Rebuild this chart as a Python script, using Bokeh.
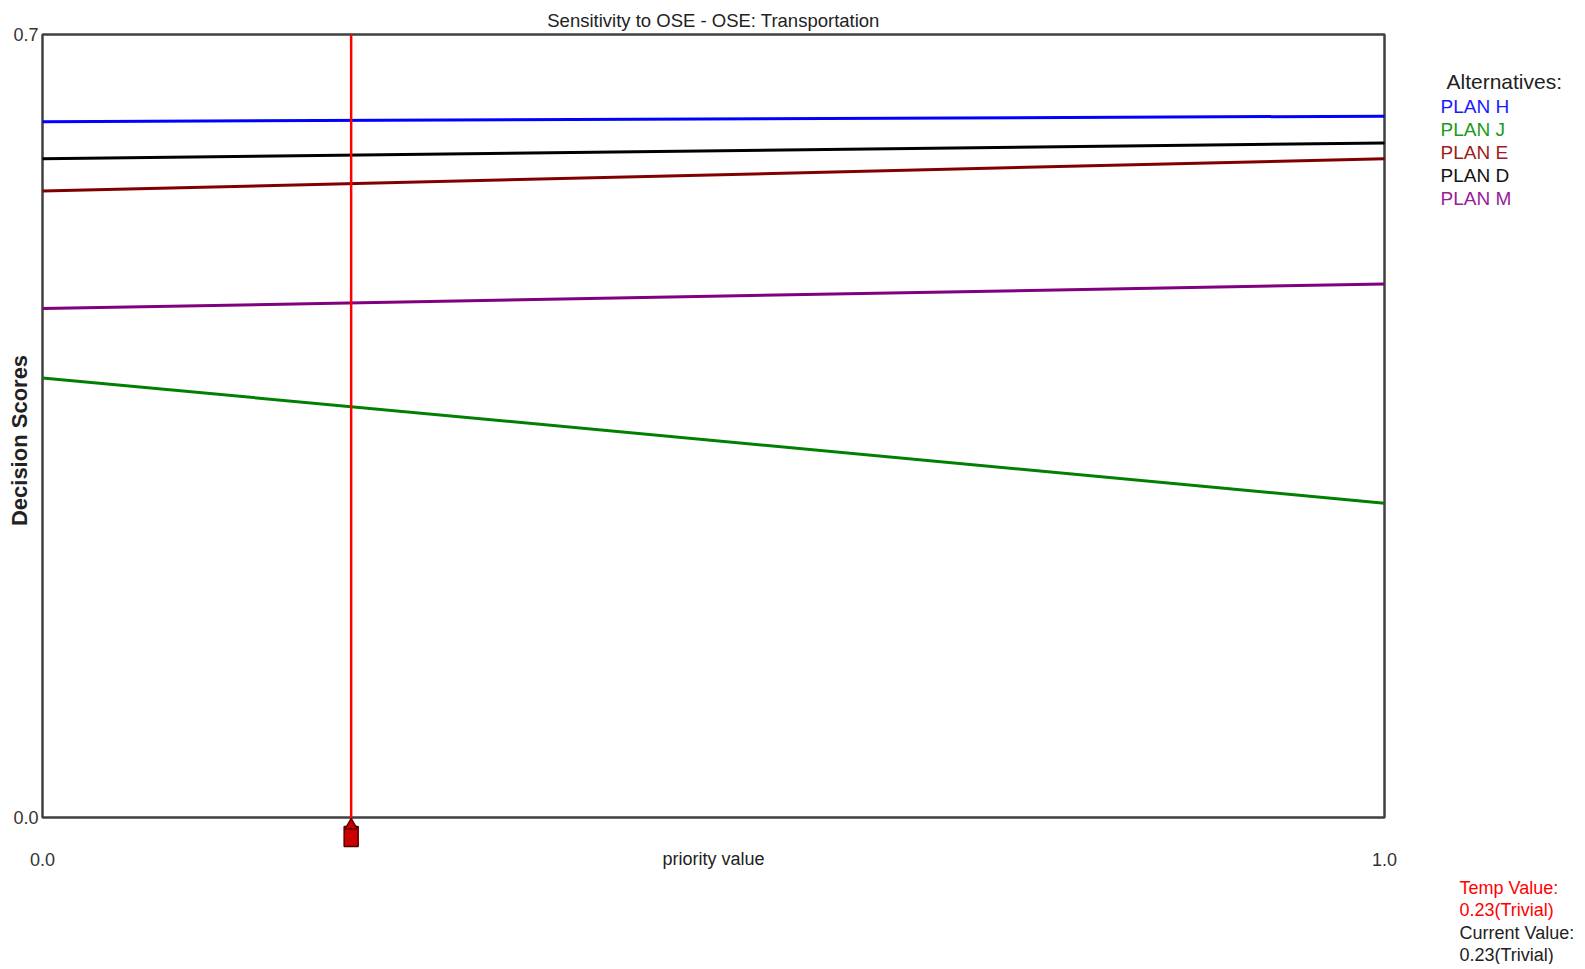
from bokeh.plotting import figure
from bokeh.models import Range1d, FixedTicker
from bokeh.layouts import row
from bokeh.core.properties import value
from bokeh.embed import file_html
from bokeh.resources import INLINE

# ---- data ----
x_ends = [0.0, 1.0]
alternatives = ["PLAN H", "PLAN J", "PLAN E", "PLAN D", "PLAN M"]
colors = ["#0000ff", "#008000", "#800000", "#000000", "#800080"]
legend_colors = ["#1a1aff", "#1a9a1a", "#a01c1c", "#111111", "#9a1a9a"]
plan_h = [0.622, 0.627]
plan_j = [0.393, 0.281]
plan_e = [0.560, 0.589]
plan_d = [0.589, 0.603]
plan_m = [0.455, 0.477]
series = [plan_h, plan_j, plan_e, plan_d, plan_m]
current_value = 0.23
y_ticks = [0.0, 0.7]
y_tick_labels = {0.0: "0.0", 0.7: "0.7"}
x_ticks = [0.0, 1.0]
x_tick_labels = {0.0: "0.0", 1.0: "1.0"}
title_text = "Sensitivity to OSE - OSE: Transportation"
legend_title = "Alternatives:"
status_lines = ["Temp Value:", "0.23(Trivial)", "Current Value:", "0.23(Trivial)"]
status_colors = ["#ff0000", "#ff0000", "#222222", "#222222"]

FONT = "Liberation Sans"
H = 964
PX_X = 1342.0          # pixels per x unit
PX_Y = 783.0 / 0.7     # pixels per y unit

# ---------------- main chart ----------------
p = figure(width=1400, height=H, output_backend="svg", toolbar_location=None,
           x_range=Range1d(-2 / PX_X, 1 + 2 / PX_X),
           y_range=Range1d(-31 / PX_Y, 0.7 + 2 / PX_Y),
           min_border_left=40, min_border_right=14,
           min_border_top=32, min_border_bottom=H - 848)
p.frame_align = False
p.background_fill_color = "white"
p.border_fill_color = "white"
p.outline_line_color = None
p.grid.visible = False

p.title.text = title_text
p.title.align = "center"
p.title.text_font = FONT
p.title.text_font_size = "18.5px"
p.title.text_font_style = "normal"
p.title.text_color = "#222222"
p.title.standoff = 4

for ax in (p.xaxis[0], p.yaxis[0]):
    ax.axis_line_color = None
    ax.major_tick_line_color = None
    ax.minor_tick_line_color = None
    ax.major_tick_out = 0
    ax.major_tick_in = 0
    ax.minor_tick_out = 0
    ax.minor_tick_in = 0
    ax.major_label_text_font = FONT
    ax.major_label_text_font_size = "18px"
    ax.major_label_text_color = "#333333"

p.xaxis.ticker = FixedTicker(ticks=x_ticks)
p.xaxis.major_label_overrides = x_tick_labels
p.xaxis.major_label_standoff = 4
p.xaxis.axis_label = "priority value"
p.xaxis.axis_label_text_font = FONT
p.xaxis.axis_label_text_font_size = "18px"
p.xaxis.axis_label_text_font_style = "normal"
p.xaxis.axis_label_text_color = "#222222"
p.xaxis.axis_label_standoff = -20

p.yaxis.ticker = FixedTicker(ticks=y_ticks)
p.yaxis.major_label_overrides = y_tick_labels
p.yaxis.major_label_standoff = 2
p.yaxis.axis_label = "Decision Scores"
p.yaxis.axis_label_text_font = FONT
p.yaxis.axis_label_text_font_size = "22px"
p.yaxis.axis_label_text_font_style = "bold"
p.yaxis.axis_label_text_color = "#222222"
p.yaxis.axis_label_standoff = -22

# plot box
p.quad(left=[x_ends[0]], right=[x_ends[1]], bottom=[y_ticks[0]], top=[y_ticks[1]],
       fill_color=None, line_color="#404040", line_width=2.5)

# series lines
for vals, col in zip(series, colors):
    p.line(x_ends, vals, line_color=col, line_width=3)

# current value line + slider handle
p.segment(x0=[current_value], y0=[-3 / PX_Y], x1=[current_value], y1=[y_ticks[1]],
          line_color="#ff0000", line_width=2.5)
p.rect(x=[current_value], y=[-19 / PX_Y], width=14, height=20,
       width_units="screen", height_units="screen",
       fill_color="#cc0000", line_color="#550000", line_width=1.5)
p.scatter(x=[current_value], y=[-8 / PX_Y], marker="triangle", size=12,
          fill_color="#cc0000", line_color="#550000", line_width=1.5)

# ---------------- side panel: legend + status ----------------
SW = 177
s = figure(width=SW, height=H, output_backend="svg", toolbar_location=None,
           x_range=Range1d(0, SW), y_range=Range1d(H, 0),
           x_axis_location=None, y_axis_location=None,
           min_border_left=0, min_border_right=0, min_border_top=0, min_border_bottom=0)
s.frame_align = False
s.background_fill_color = "white"
s.border_fill_color = "white"
s.outline_line_color = None
s.grid.visible = False

s.text(x=[46], y=[81], text=[legend_title], text_color="#222222",
       text_font=value(FONT), text_font_size="21px",
       text_align="left", text_baseline="middle")
s.text(x=[40] * len(alternatives), y=[106 + 23 * i for i in range(len(alternatives))],
       text=alternatives, text_color=legend_colors,
       text_font=value(FONT), text_font_size="19px",
       text_align="left", text_baseline="middle")
s.text(x=[59] * len(status_lines), y=[887 + 22.5 * i for i in range(len(status_lines))],
       text=status_lines, text_color=status_colors,
       text_font=value(FONT), text_font_size="18px",
       text_align="left", text_baseline="middle")

layout = row(p, s)
open("out.html", "w").write(file_html(layout, INLINE))
